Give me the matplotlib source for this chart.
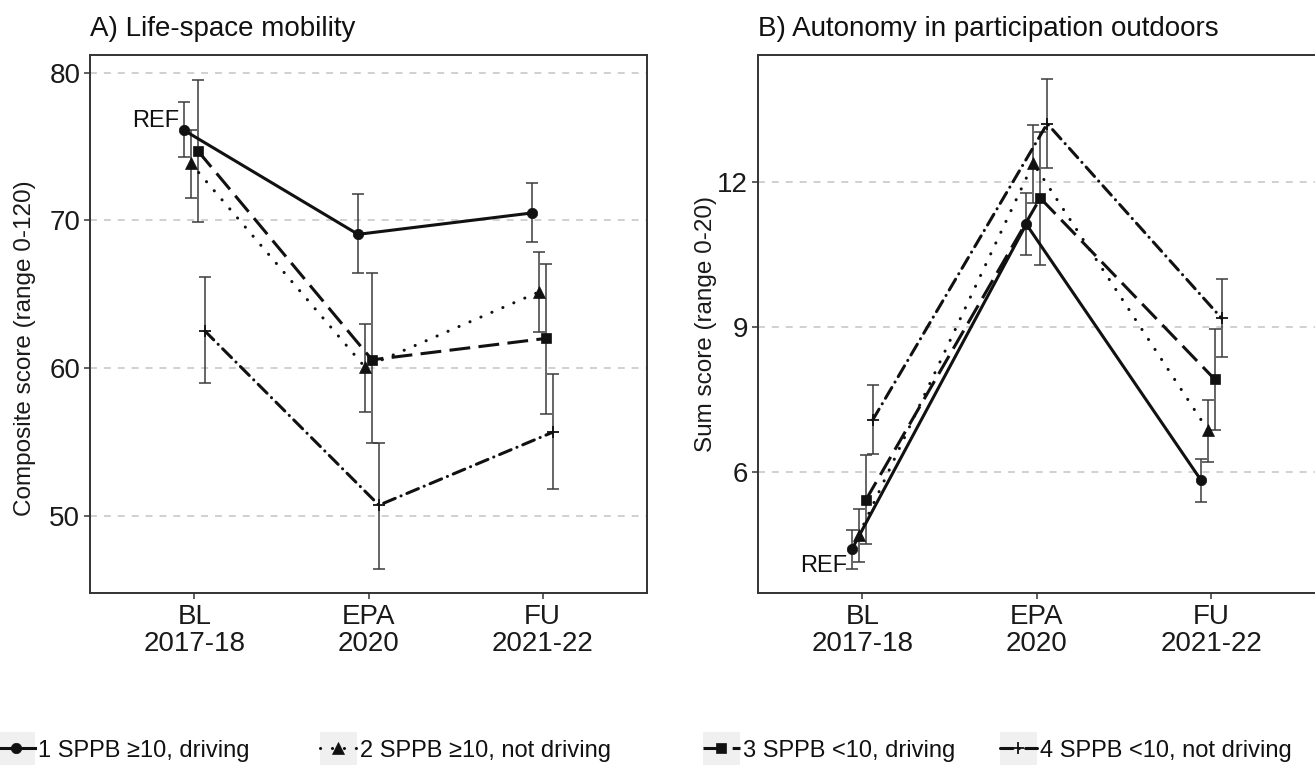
import matplotlib
matplotlib.use("Agg")
import matplotlib.pyplot as plt
from matplotlib.lines import Line2D
from matplotlib.patches import Rectangle
from matplotlib.legend_handler import HandlerLine2D

plt.rcParams['font.family'] = ['Liberation Sans', 'DejaVu Sans']
plt.rcParams['lines.scale_dashes'] = False

# ---------------- data ----------------
timepoints = ["BL\n2017-18", "EPA\n2020", "FU\n2021-22"]
groups = ["1 SPPB \u226510, driving", "2 SPPB \u226510, not driving",
          "3 SPPB <10, driving", "4 SPPB <10, not driving"]

# A) Life-space mobility (composite score)
lsm_mean  = [[76.1, 69.05, 70.5], [73.85, 60.05, 65.15], [74.7, 60.55, 62.0], [62.5, 50.7, 55.65]]
lsm_lower = [[74.3, 66.45, 68.55], [71.5, 57.0, 62.4], [69.9, 54.9, 56.9], [58.95, 46.4, 51.8]]
lsm_upper = [[78.0, 71.8, 72.5], [76.1, 63.0, 67.85], [79.5, 66.4, 67.05], [66.15, 54.9, 59.6]]

# B) Autonomy in participation outdoors (sum score)
apo_mean  = [[4.39, 11.12, 5.83], [4.69, 12.38, 6.86], [5.41, 11.66, 7.91], [7.07, 13.2, 9.17]]
apo_lower = [[3.98, 10.48, 5.38], [4.14, 11.55, 6.2], [4.5, 10.27, 6.86], [6.36, 12.28, 8.38]]
apo_upper = [[4.79, 11.76, 6.26], [5.22, 13.17, 7.48], [6.35, 13.03, 8.95], [7.79, 14.12, 9.98]]

# ---------------- styles ----------------
dodge = [-0.06, -0.02, 0.02, 0.06]
markers = ['o', '^', 's', '+']
msizes = [7.5, 8, 7, 8]
lstyles = ['-', (0, (0.1, 8.5)), (0, (15, 6)), (0, (9, 4.5, 0.1, 4.5))]
capstyles = ['butt', 'round', 'butt', 'round']
LW = 2.2
ink = '#111111'
ebar = '#3c3c3c'

fig = plt.figure(figsize=(13.15, 7.65), dpi=100)
W, H = 1315, 765
axA = fig.add_axes([90 / W, (H - 593) / H, 557 / W, 538 / H])
axB = fig.add_axes([757.5 / W, (H - 593) / H, 558.5 / W, 538 / H])


def draw(ax, means, lows, ups, ylim, yticks, ylabel, title, ylab_x, ylab_y, ref_off, ref_va):
    xs = range(1, len(timepoints) + 1)
    for g in range(len(groups)):
        x = [xi + dodge[g] for xi in xs]
        m = means[g]
        err = [[m[i] - lows[g][i] for i in range(3)], [ups[g][i] - m[i] for i in range(3)]]
        ax.errorbar(x, m, yerr=err, fmt='none', ecolor=ebar, elinewidth=1.1,
                    capsize=4.6, capthick=1.1, zorder=2)
        ax.plot(x, m, color=ink, lw=LW, linestyle=lstyles[g],
                dash_capstyle=capstyles[g], zorder=3)
        ax.plot(x, m, linestyle='none', marker=markers[g], ms=msizes[g],
                color=ink, mec=ink, mew=1.3 if markers[g] == '+' else 0.5, zorder=4)
    ax.set_xlim(0.4, 3.6)
    ax.set_ylim(*ylim)
    ax.set_xticks(list(xs))
    ax.set_xticklabels(timepoints, fontsize=20, color='#1a1a1a', linespacing=1.05)
    ax.set_yticks(yticks)
    ax.set_yticklabels([str(t) for t in yticks], fontsize=20, color='#1a1a1a')
    ax.tick_params(axis='both', length=4, width=1.1, color='#333333', pad=3)
    ax.tick_params(axis='x', pad=4)
    for yv in yticks:
        ax.axhline(yv, color='#c4c4c4', lw=1.1, linestyle=(0, (5, 5)), zorder=0)
    for s in ax.spines.values():
        s.set_color('#333333')
        s.set_linewidth(1.4)
    ax.set_ylabel(ylabel, fontsize=17.5, color='#1a1a1a')
    ax.yaxis.set_label_coords(ylab_x, ylab_y)
    ax.set_title(title, loc='left', fontsize=20, pad=14, color='#111111')
    ax.annotate("REF", xy=(1 + dodge[0], means[0][0]), xytext=ref_off,
                textcoords='offset points', ha='right', va=ref_va,
                fontsize=17, color='#111111')


draw(axA, lsm_mean, lsm_lower, lsm_upper, (44.75, 81.2), [50, 60, 70, 80],
     "Composite score (range 0-120)", "A) Life-space mobility", -0.097, 0.455,
     (-3.6, 2.4), 'baseline')
draw(axB, apo_mean, apo_lower, apo_upper, (3.49, 14.62), [6, 9, 12],
     "Sum score (range 0-20)", "B) Autonomy in participation outdoors", -0.073, 0.5,
     (-3.4, -16.3), 'baseline')


class KeyHandler(HandlerLine2D):
    def create_artists(self, legend, orig_handle, xdescent, ydescent, width, height,
                       fontsize, trans):
        rect = Rectangle((-xdescent, -ydescent - 0.3 * height), width, height * 1.6,
                         facecolor='#f0f0f0', edgecolor='none', transform=trans)
        arts = super().create_artists(legend, orig_handle, xdescent, ydescent, width,
                                      height, fontsize, trans)
        return [rect] + list(arts)


text_x = [38, 360, 743, 1040]
for g in range(len(groups)):
    h = Line2D([], [], color=ink, lw=LW, linestyle=lstyles[g], dash_capstyle=capstyles[g],
               marker=markers[g], ms=msizes[g], mew=1.3 if markers[g] == '+' else 0.5)
    leg = fig.legend([h], [groups[g]], loc='center left',
                     bbox_to_anchor=((text_x[g] - 40) / W, 15 / H),
                     frameon=False, fontsize=17, handlelength=1.55, handleheight=1.0,
                     handletextpad=0.15, borderpad=0, borderaxespad=0,
                     handler_map={Line2D: KeyHandler(numpoints=1)})
    for t in leg.get_texts():
        t.set_color('#111111')

fig.savefig("out.png", dpi=100, facecolor='white')
